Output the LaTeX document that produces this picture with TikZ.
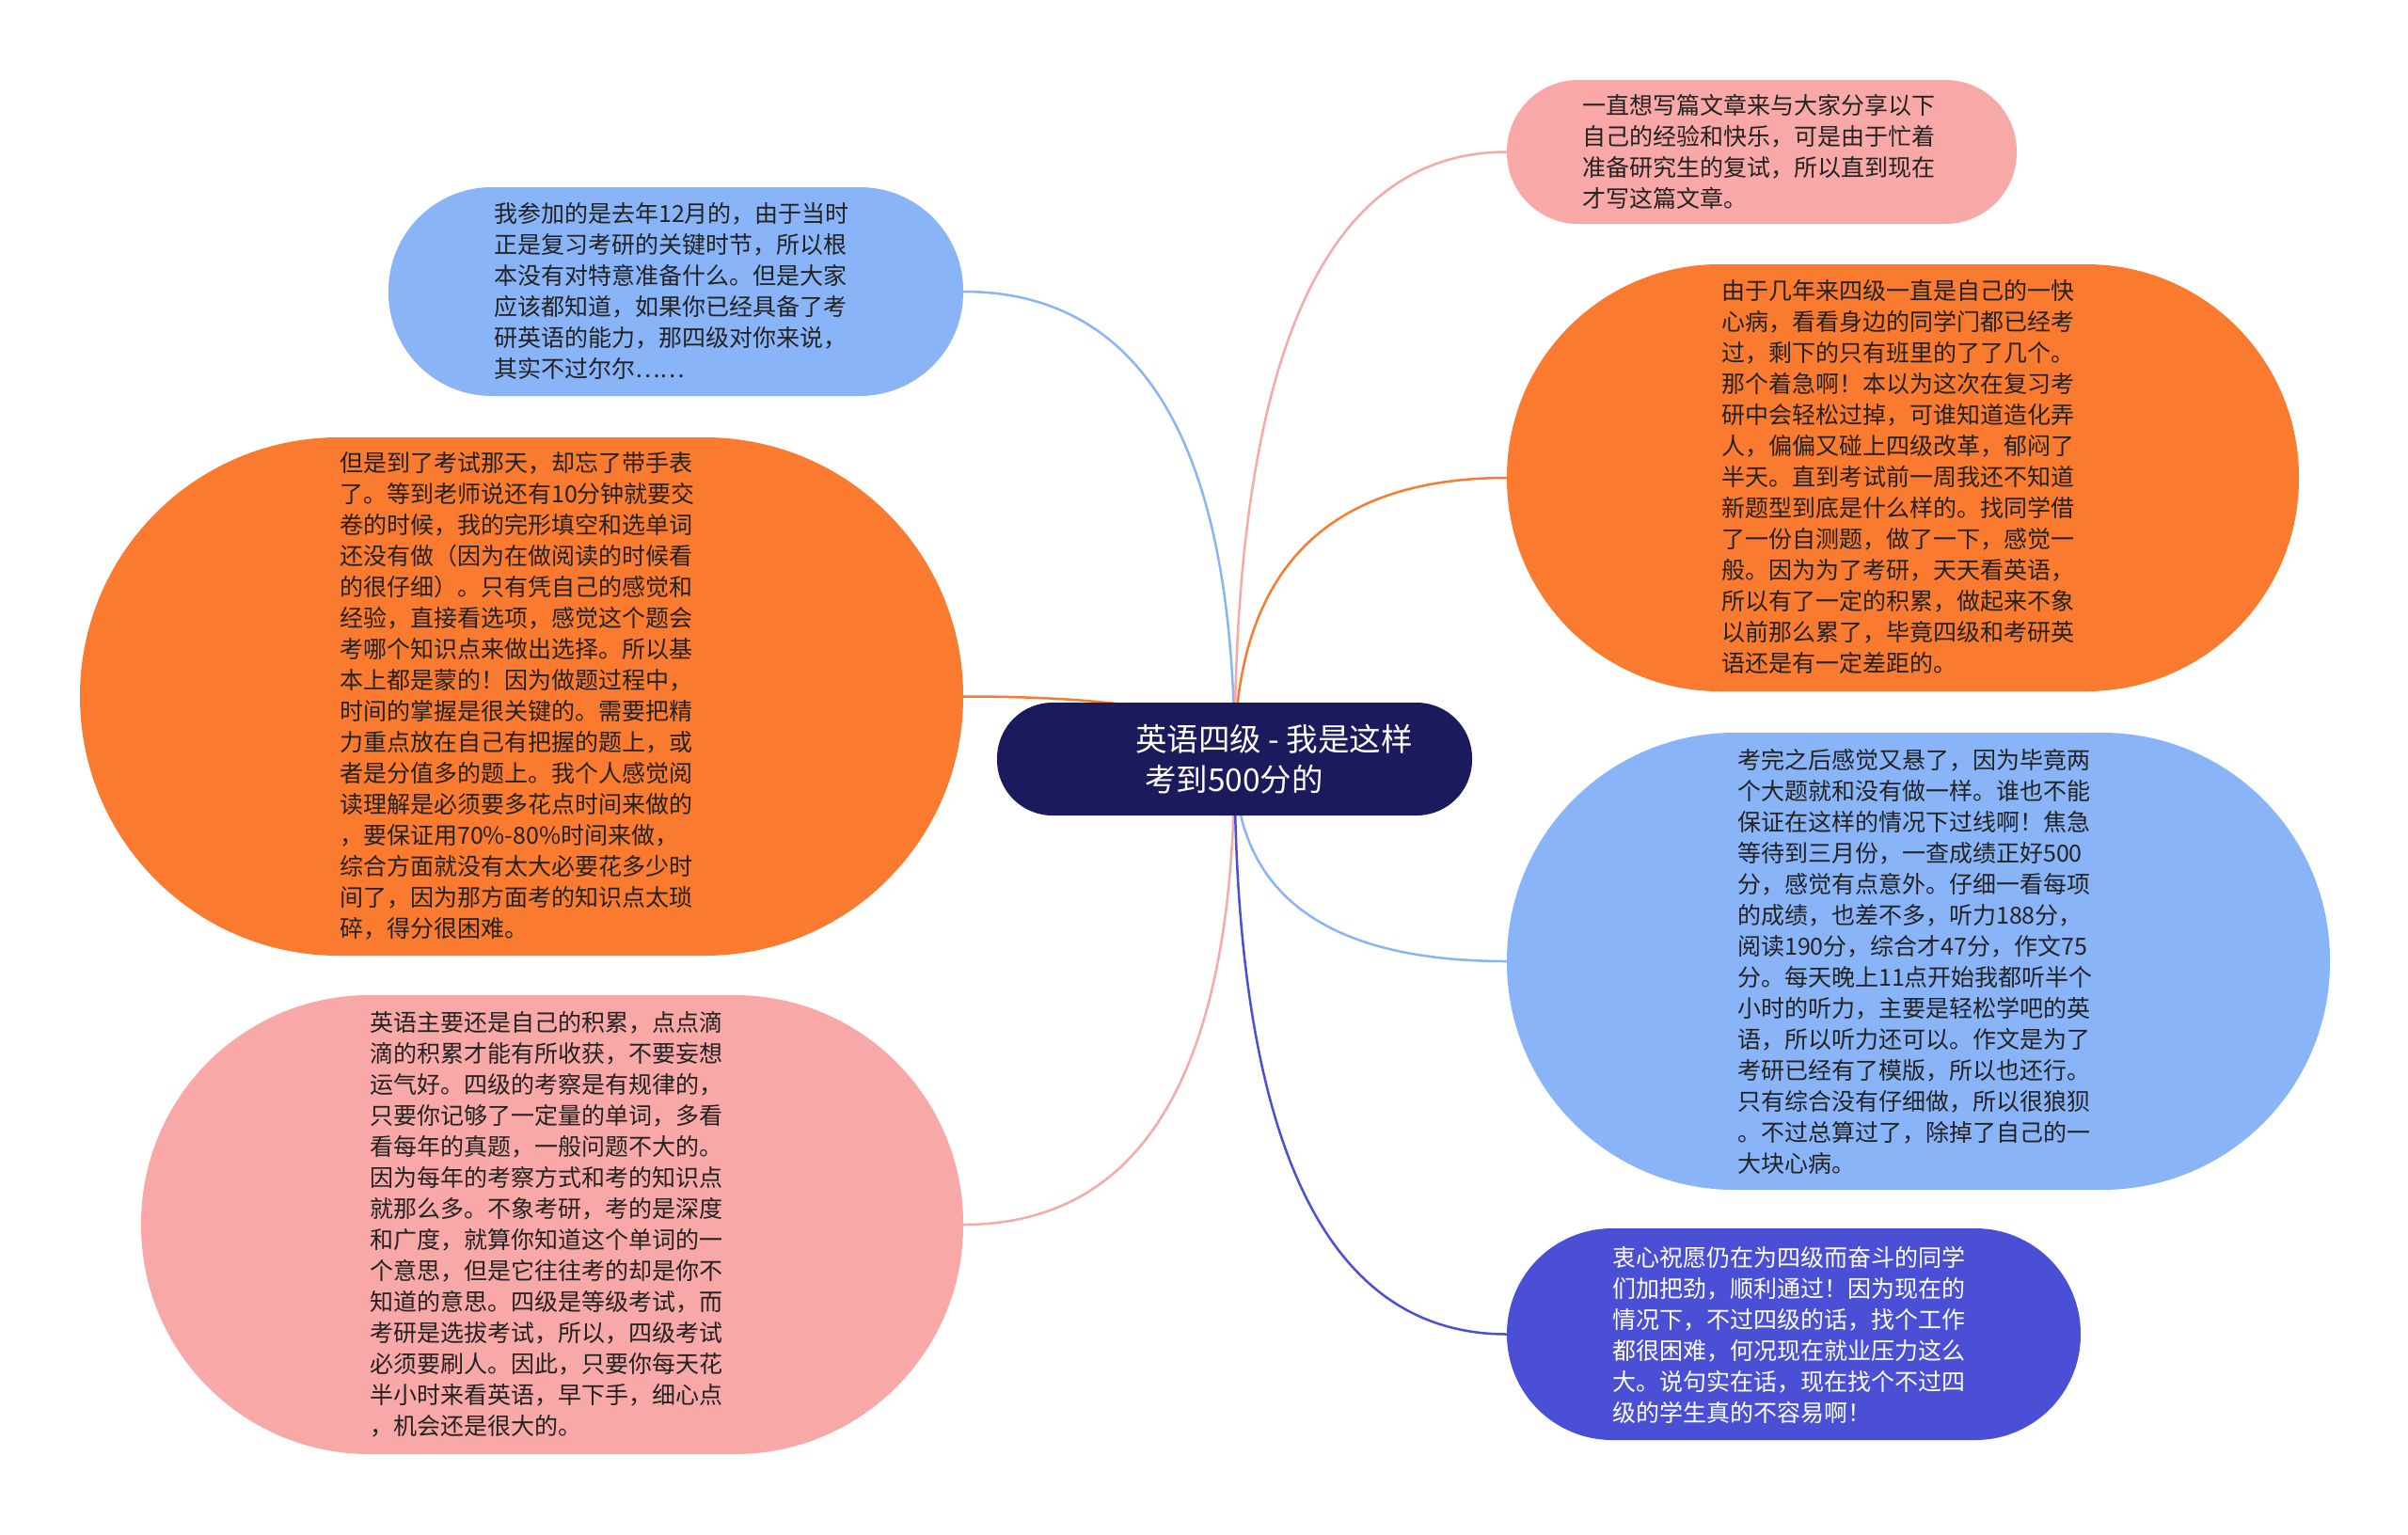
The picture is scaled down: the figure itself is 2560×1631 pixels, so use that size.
\documentclass[tikz,border=0pt]{standalone}
\usepackage{fontspec}
\newfontfamily\cjkf{Noto Sans CJK SC}
\usetikzlibrary{calc,backgrounds}
\definecolor{cblue}{HTML}{8AB4F8}
\definecolor{corange}{HTML}{FA7B2F}
\definecolor{cpink}{HTML}{F9A8A8}
\definecolor{cviolet}{HTML}{4A4FD6}
\definecolor{cnavy}{HTML}{1B1A5C}
\definecolor{ctext}{HTML}{222222}
\tikzset{
  shapebox/.style={rectangle, inner sep=0pt, outer sep=0pt},
  bodytext/.style={anchor=west, inner sep=0pt, align=left, text=ctext, font=\cjkf\fontsize{25}{33}\selectfont},
  link/.style={line width=2.5pt},
}
\newcommand\mylink[3]{%
  \coordinate (q#2) at (c.center |- #2.#3);
  \draw[link,#1] (c.center) .. controls ($(c.center)!0.6667!(q#2)$) and ($(#2.#3)!0.6667!(q#2)$) .. (#2.#3);
}
\begin{document}
\begin{tikzpicture}[x=1pt,y=-1pt]
\useasboundingbox (0,0) rectangle (2560,1631);

% central node
\node[shapebox, fill=cnavy, minimum width=505pt, minimum height=120pt, rounded corners=59pt] (c) at (1312.5,807) {};
\node[anchor=west, inner sep=0pt, align=left, text=white, font=\cjkf\fontsize{33.5}{43}\selectfont] (ct) at (1207,807) {英语四级 - 我是这样\\\hspace*{10pt}考到500分的};

% left nodes
\node[shapebox, fill=cblue, minimum width=611pt, minimum height=222pt, rounded corners=110pt] (A) at (718.5,310) {};
\node[bodytext] (At) at (525,309.5) {我参加的是去年12月的，由于当时\\正是复习考研的关键时节，所以根\\本没有对特意准备什么。但是大家\\应该都知道，如果你已经具备了考\\研英语的能力，那四级对你来说，\\其实不过尔尔……};

\node[shapebox, fill=corange, minimum width=939pt, minimum height=551pt, rounded corners=275pt] (B) at (554.5,740.5) {};
\node[bodytext] (Bt) at (361,739.5) {但是到了考试那天，却忘了带手表\\了。等到老师说还有10分钟就要交\\卷的时候，我的完形填空和选单词\\还没有做（因为在做阅读的时候看\\的很仔细）。只有凭自己的感觉和\\经验，直接看选项，感觉这个题会\\考哪个知识点来做出选择。所以基\\本上都是蒙的！因为做题过程中，\\时间的掌握是很关键的。需要把精\\力重点放在自己有把握的题上，或\\者是分值多的题上。我个人感觉阅\\读理解是必须要多花点时间来做的\\，要保证用70\%-80\%时间来做，\\综合方面就没有太大必要花多少时\\间了，因为那方面考的知识点太琐\\碎，得分很困难。};

\node[shapebox, fill=cpink, minimum width=874pt, minimum height=488pt, rounded corners=243pt] (C) at (587,1302) {};
\node[bodytext] (Ct) at (393,1302) {英语主要还是自己的积累，点点滴\\滴的积累才能有所收获，不要妄想\\运气好。四级的考察是有规律的，\\只要你记够了一定量的单词，多看\\看每年的真题，一般问题不大的。\\因为每年的考察方式和考的知识点\\就那么多。不象考研，考的是深度\\和广度，就算你知道这个单词的一\\个意思，但是它往往考的却是你不\\知道的意思。四级是等级考试，而\\考研是选拔考试，所以，四级考试\\必须要刷人。因此，只要你每天花\\半小时来看英语，早下手，细心点\\，机会还是很大的。};

% right nodes
\node[shapebox, fill=cpink, minimum width=542pt, minimum height=153pt, rounded corners=76pt] (D) at (1873,161.5) {};
\node[bodytext] (Dt) at (1682,161) {一直想写篇文章来与大家分享以下\\自己的经验和快乐，可是由于忙着\\准备研究生的复试，所以直到现在\\才写这篇文章。};

\node[shapebox, fill=corange, minimum width=842pt, minimum height=454pt, rounded corners=226pt] (E) at (2023,508) {};
\node[bodytext] (Et) at (1830,507) {由于几年来四级一直是自己的一快\\心病，看看身边的同学门都已经考\\过，剩下的只有班里的了了几个。\\那个着急啊！本以为这次在复习考\\研中会轻松过掉，可谁知道造化弄\\人，偏偏又碰上四级改革，郁闷了\\半天。直到考试前一周我还不知道\\新题型到底是什么样的。找同学借\\了一份自测题，做了一下，感觉一\\般。因为为了考研，天天看英语，\\所以有了一定的积累，做起来不象\\以前那么累了，毕竟四级和考研英\\语还是有一定差距的。};

\node[shapebox, fill=cblue, minimum width=875pt, minimum height=486pt, rounded corners=242pt] (F) at (2039.5,1022) {};
\node[bodytext] (Ft) at (1847,1022) {考完之后感觉又悬了，因为毕竟两\\个大题就和没有做一样。谁也不能\\保证在这样的情况下过线啊！焦急\\等待到三月份，一查成绩正好500\\分，感觉有点意外。仔细一看每项\\的成绩，也差不多，听力188分，\\阅读190分，综合才47分，作文75\\分。每天晚上11点开始我都听半个\\小时的听力，主要是轻松学吧的英\\语，所以听力还可以。作文是为了\\考研已经有了模版，所以也还行。\\只有综合没有仔细做，所以很狼狈\\。不过总算过了，除掉了自己的一\\大块心病。};

\node[shapebox, fill=cviolet, minimum width=610pt, minimum height=225pt, rounded corners=112pt] (G) at (1907,1418.5) {};
\node[bodytext, text=white] (Gt) at (1714,1419) {衷心祝愿仍在为四级而奋斗的同学\\们加把劲，顺利通过！因为现在的\\情况下，不过四级的话，找个工作\\都很困难，何况现在就业压力这么\\大。说句实在话，现在找个不过四\\级的学生真的不容易啊！};

\begin{scope}[on background layer]
\fill[white] (0,0) rectangle (2560,1631);
\mylink{cblue}{A}{east}
\mylink{corange}{B}{east}
\mylink{cpink}{C}{east}
\mylink{cpink}{D}{west}
\mylink{corange}{E}{west}
\mylink{cblue}{F}{west}
\mylink{cviolet}{G}{west}
\end{scope}
\end{tikzpicture}
\end{document}
